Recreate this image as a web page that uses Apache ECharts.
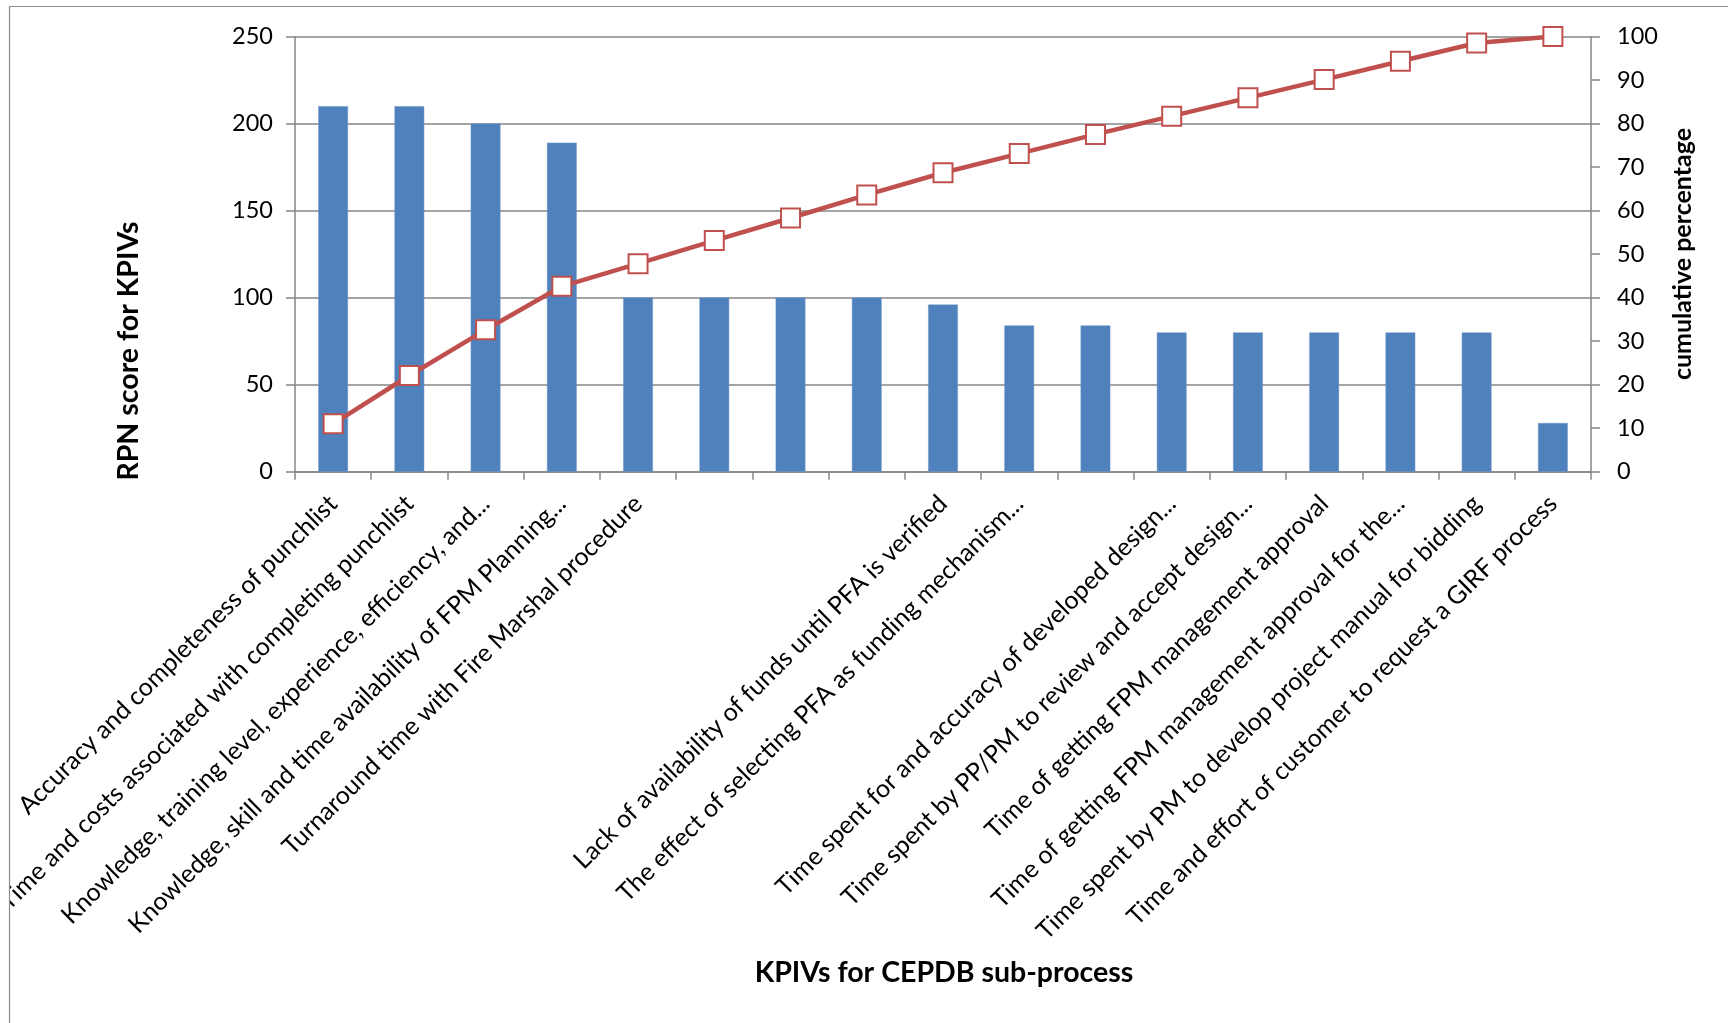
<!DOCTYPE html>
<html>
<head>
<meta charset="utf-8">
<script src="https://cdn.jsdelivr.net/npm/echarts@6/dist/echarts.min.js"></script>
<style>
  html, body { margin: 0; padding: 0; background: #ffffff; }
  #chart { width: 1728px; height: 1023px; }
</style>
</head>
<body>
<div id="chart"></div>
<script>
// KPIVs of the CEPDB sub-process, in Pareto order
const categories = [
  'Accuracy and completeness of punchlist',
  'Time and costs associated with completing punchlist',
  'Knowledge, training level, experience, efficiency, and...',
  'Knowledge, skill and time availability of FPM Planning...',
  'Turnaround time with Fire Marshal procedure',
  '',
  '',
  '',
  'Lack of availability of funds until PFA is verified',
  'The effect of selecting PFA as funding mechanism...',
  '',
  'Time spent for and accuracy of developed design...',
  'Time spent by PP/PM to review and accept design...',
  'Time of getting FPM management approval',
  'Time of getting FPM management approval for the...',
  'Time spent by PM to develop project manual for bidding',
  'Time and effort of customer to request a GIRF process'
];

// RPN score per KPIV
const rpnScores = [210, 210, 200, 189, 100, 100, 100, 100, 96, 84, 84, 80, 80, 80, 80, 80, 28];

// Cumulative percentage
const cumulativePct = [11.0, 22.1, 32.6, 42.6, 47.8, 53.1, 58.3, 63.6, 68.7, 73.1, 77.5, 81.7, 85.9, 90.1, 94.3, 98.5, 100];

// Axis tick settings
const rpnAxis = { min: 0, max: 250, interval: 50 };
const pctAxis = { min: 0, max: 100, interval: 10 };

const FONT = 'Lato';
const AXIS_GRAY = '#868686';

const chart = echarts.init(document.getElementById('chart'), null, { renderer: 'canvas' });

chart.setOption({
  backgroundColor: '#ffffff',
  animation: false,
  grid: {
    left: 295, right: 137, top: 36.5, bottom: 551.3,
    containLabel: false,
    outerBoundsMode: 'none'
  },
  xAxis: {
    type: 'category',
    data: categories,
    boundaryGap: true,
    axisLine: { show: true, lineStyle: { color: AXIS_GRAY, width: 1.5 } },
    axisTick: { show: true, length: 8, inside: false, lineStyle: { color: AXIS_GRAY, width: 1.5 } },
    axisLabel: {
      interval: 0,
      rotate: 45,
      margin: 28,
      fontFamily: FONT,
      fontSize: 25,
      color: '#000000'
    },
    splitLine: { show: false }
  },
  yAxis: [
    {
      type: 'value',
      min: rpnAxis.min,
      max: rpnAxis.max,
      interval: rpnAxis.interval,
      position: 'left',
      axisLine: { show: true, lineStyle: { color: AXIS_GRAY, width: 1.5 } },
      axisTick: { show: true, length: 9, lineStyle: { color: AXIS_GRAY, width: 1.5 } },
      axisLabel: { margin: 22, fontFamily: FONT, fontSize: 23.5, color: '#000000' },
      splitLine: { show: true, lineStyle: { color: AXIS_GRAY, width: 1.5 } }
    },
    {
      type: 'value',
      min: pctAxis.min,
      max: pctAxis.max,
      interval: pctAxis.interval,
      position: 'right',
      axisLine: { show: true, lineStyle: { color: AXIS_GRAY, width: 1.5 } },
      axisTick: { show: true, length: 9, lineStyle: { color: AXIS_GRAY, width: 1.5 } },
      axisLabel: { margin: 26, fontFamily: FONT, fontSize: 23.5, color: '#000000' },
      splitLine: { show: false }
    }
  ],
  series: [
    {
      name: 'RPN score',
      type: 'bar',
      yAxisIndex: 0,
      data: rpnScores,
      barWidth: '39%',
      itemStyle: { color: '#4F81BD', borderColor: '#6f97c9', borderWidth: 0.5 },
      z: 2
    },
    {
      name: 'Cumulative percentage',
      type: 'line',
      yAxisIndex: 1,
      data: cumulativePct,
      symbol: 'rect',
      symbolSize: 19,
      showAllSymbol: true,
      lineStyle: { color: '#C0504D', width: 4.5 },
      itemStyle: { color: '#ffffff', borderColor: '#C0504D', borderWidth: 2 },
      z: 3
    }
  ],
  graphic: [
    {
      type: 'rect',
      silent: true,
      z: 100,
      shape: { x: 0, y: 0, width: 9, height: 1023 },
      style: { fill: '#ffffff' }
    },
    {
      type: 'rect',
      silent: true,
      z: 101,
      shape: { x: 9.5, y: 6.5, width: 1740, height: 1040 },
      style: { fill: 'none', stroke: '#8c8c8c', lineWidth: 1.2 }
    },
    {
      type: 'text',
      silent: true,
      z: 101,
      x: 129,
      y: 351,
      rotation: Math.PI / 2,
      style: {
        text: 'RPN score for KPIVs',
        fontFamily: FONT,
        fontWeight: 'bold',
        fontSize: 28.5,
        fill: '#000000',
        align: 'center',
        verticalAlign: 'middle'
      }
    },
    {
      type: 'text',
      silent: true,
      z: 101,
      x: 1683,
      y: 254,
      rotation: Math.PI / 2,
      style: {
        text: 'cumulative percentage',
        fontFamily: FONT,
        fontWeight: 'bold',
        fontSize: 25,
        fill: '#000000',
        align: 'center',
        verticalAlign: 'middle'
      }
    },
    {
      type: 'text',
      silent: true,
      z: 101,
      x: 944,
      y: 973,
      style: {
        text: 'KPIVs for CEPDB sub-process',
        fontFamily: FONT,
        fontWeight: 'bold',
        fontSize: 28.5,
        fill: '#000000',
        align: 'center',
        verticalAlign: 'middle'
      }
    }
  ]
});
</script>
</body>
</html>
